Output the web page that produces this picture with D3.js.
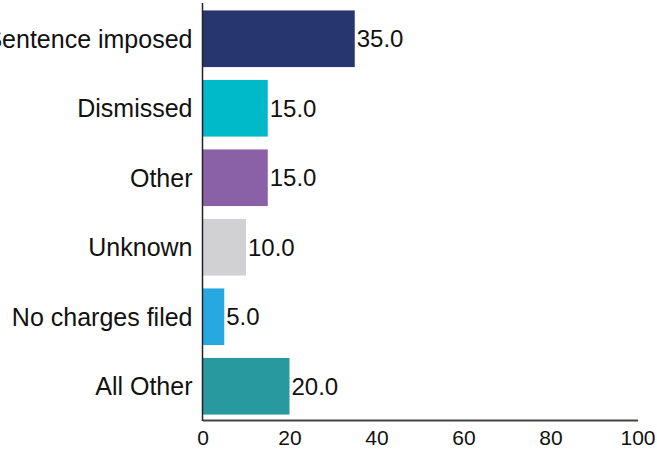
<!DOCTYPE html>
<html>
<head>
<meta charset="utf-8">
<script src="https://cdn.jsdelivr.net/npm/d3@7"></script>
<style>
  html, body { margin: 0; padding: 0; background: #fff; }
  svg { display: block; }
  text { font-family: "Liberation Sans", Arial, Helvetica, sans-serif; fill: #111; }
</style>
</head>
<body>
<script>
const categories = ["Sentence imposed", "Dismissed", "Other", "Unknown", "No charges filed", "All Other"];
const values = [35.0, 15.0, 15.0, 10.0, 5.0, 20.0];
const colors = ["#27366f", "#00b9c9", "#8a61a6", "#d1d1d3", "#27a8e0", "#27999f"];
const xTicks = [0, 20, 40, 60, 80, 100];

const W = 657, H = 451;
const svg = d3.select("body").append("svg").attr("width", W).attr("height", H);

const x = d3.scaleLinear().domain([0, 100]).range([202.5, 637.5]);
const y = d3.scaleBand().domain(categories).range([4, 421]).paddingInner(0.185).paddingOuter(0.0925);

// bars
svg.selectAll("rect.bar").data(categories).join("rect")
  .attr("class", "bar")
  .attr("x", x(0))
  .attr("y", d => y(d))
  .attr("width", (d, i) => x(values[i]) - x(0))
  .attr("height", y.bandwidth())
  .attr("fill", (d, i) => colors[i]);

// value labels
svg.selectAll("text.val").data(categories).join("text")
  .attr("class", "val")
  .attr("x", (d, i) => x(values[i]) + 2)
  .attr("y", d => y(d) + y.bandwidth() / 2)
  .attr("dy", "0.36em")
  .style("font-size", "24px")
  .text((d, i) => values[i].toFixed(1));

// category labels
svg.selectAll("text.cat").data(categories).join("text")
  .attr("class", "cat")
  .attr("x", x(0) - 10)
  .attr("y", d => y(d) + y.bandwidth() / 2)
  .attr("dy", "0.36em")
  .attr("text-anchor", "end")
  .style("font-size", "25px")
  .text(d => d);

// x axis
const xAxis = d3.axisBottom(x).tickValues(xTicks).tickSize(0).tickPadding(10).tickFormat(d3.format("d"));
const gx = svg.append("g").attr("transform", "translate(0,420)").call(xAxis);
gx.select(".domain").attr("stroke", "#444").attr("stroke-width", 2);
gx.selectAll("text").style("font-size", "21px").style("font-family", "'Liberation Sans', Arial, sans-serif").attr("fill", "#111");

// y axis line
svg.append("line")
  .attr("x1", x(0)).attr("x2", x(0))
  .attr("y1", 3).attr("y2", 421)
  .attr("stroke", "#222").attr("stroke-width", 1.5);
</script>
</body>
</html>
